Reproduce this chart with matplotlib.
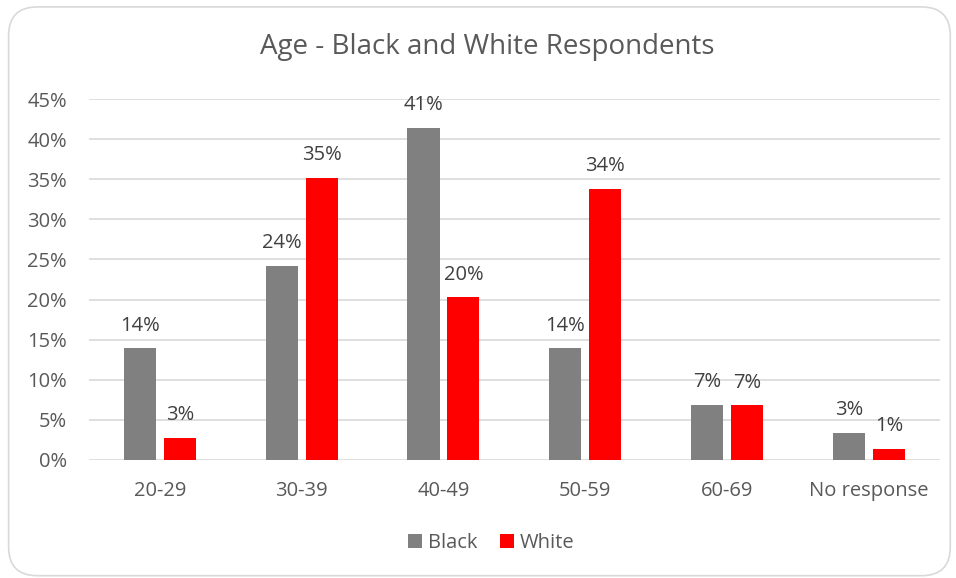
import numpy as np
import matplotlib
matplotlib.use("Agg")
import matplotlib.pyplot as plt
from matplotlib.patches import FancyBboxPatch

# age groups and share of respondents in each
categories = ["20-29", "30-39", "40-49", "50-59", "60-69", "No response"]
black = [0.139, 0.242, 0.414, 0.139, 0.069, 0.034]
white = [0.028, 0.352, 0.203, 0.338, 0.068, 0.014]
yticks = [0, 0.05, 0.10, 0.15, 0.20, 0.25, 0.30, 0.35, 0.40, 0.45]

plt.rcParams['font.family'] = ['Open Sans', 'DejaVu Sans']

fig = plt.figure(figsize=(9.56, 5.78), dpi=100)
ax = fig.add_axes([0.0931, 0.2042, 0.8899, 0.6245])

# rounded chart frame
frame = FancyBboxPatch((0.009, 0.004), 0.985, 0.984,
                       boxstyle="round,pad=0,rounding_size=0.03",
                       transform=fig.transFigure, facecolor="none",
                       edgecolor="#d9d9d9", linewidth=1.2, mutation_aspect=956/578)
fig.patches.append(frame)

x = np.arange(len(categories))
w = 0.226
off = 0.141
b1 = ax.bar(x - off, black, w, color="#808080", label="Black", zorder=3)
b2 = ax.bar(x + off, white, w, color="#ff0000", label="White", zorder=3)

for bars, vals in ((b1, black), (b2, white)):
    for r, v in zip(bars, vals):
        ax.annotate(f"{v*100:.0f}%", (r.get_x() + r.get_width() / 2, v),
                    xytext=(0, 9), textcoords="offset points",
                    ha="center", va="bottom", fontsize=14.5, color="#404040")

ax.set_xlim(-0.5, len(categories) - 0.5)
ax.set_ylim(0, 0.45)
ax.set_yticks(yticks)
ax.set_yticklabels([f"{t*100:.0f}%" for t in yticks])
ax.set_xticks(x)
ax.set_xticklabels(categories)
ax.tick_params(axis="both", length=0, labelsize=14.5, colors="#595959")
ax.tick_params(axis="y", pad=16)
ax.tick_params(axis="x", pad=15)
ax.grid(axis="y", color="#d9d9d9", linewidth=1.2, zorder=0)
for s in ax.spines.values():
    s.set_visible(False)

fig.text(0.51, 0.919, "Age - Black and White Respondents", ha="center", va="center",
         fontsize=20, color="#595959")

fig.legend(handles=[b1, b2], loc="center", bbox_to_anchor=(0.514, 0.06), ncol=2,
           frameon=False, fontsize=14.5, labelcolor="#595959",
           handlelength=0.7, handleheight=0.7, handletextpad=0.3, columnspacing=1.1)

fig.savefig("out.png", dpi=100)
